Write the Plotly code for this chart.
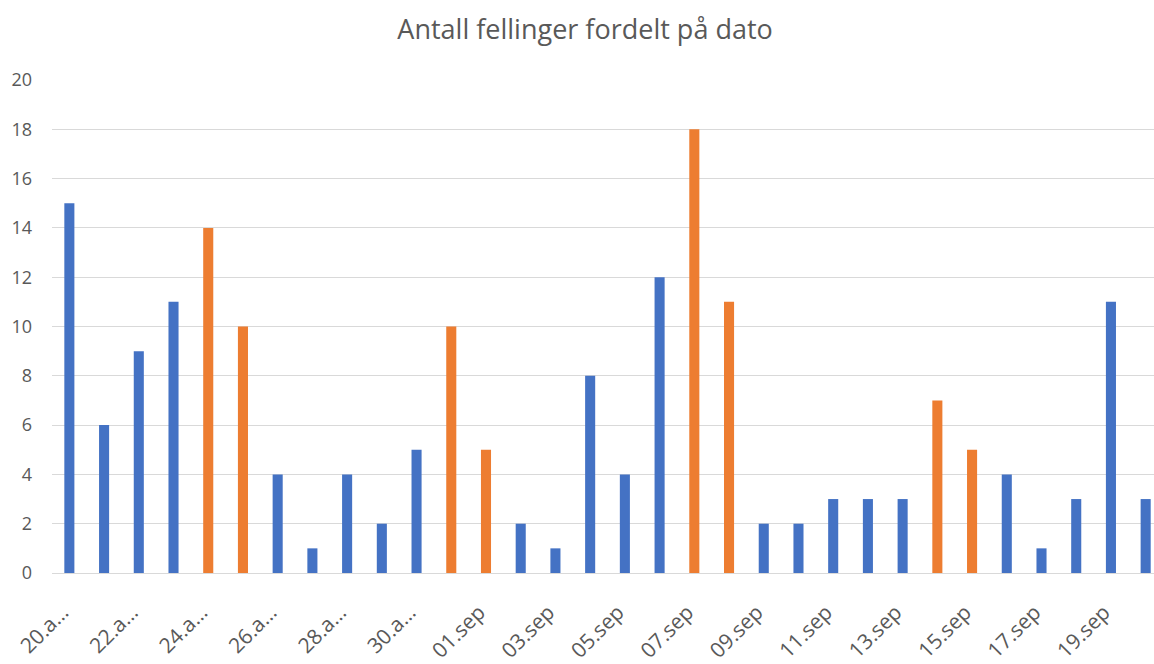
import datetime as dt
import plotly.graph_objects as go

# Data
start_date = dt.date(2019, 8, 20)
values = [15, 6, 9, 11, 14, 10, 4, 1, 4, 2, 5, 10,
          5, 2, 1, 8, 4, 12, 18, 11, 2, 2, 3, 3, 3, 7, 5, 4, 1, 3, 11, 3]
months_no = {8: "aug", 9: "sep"}

dates = [start_date + dt.timedelta(days=i) for i in range(len(values))]
labels = [f"{d.day:02d}.{months_no[d.month]}" for d in dates]
weekend = [d.weekday() >= 5 for d in dates]

BLUE = "#4472C4"
ORANGE = "#ED7D31"
colors = [ORANGE if w else BLUE for w in weekend]

x = list(range(len(values)))

# Excel-style truncated labels (every second category)
def trunc(s):
    return s if s.endswith("sep") else s[:4] + "…"

label_idx = x[::2]
# rotated labels sit slightly left of their category centre, as in Excel
tickvals = [i - 0.2 for i in label_idx]
ticktext = [trunc(labels[i]) for i in label_idx]

fig = go.Figure(go.Bar(
    x=x, y=values, marker=dict(color=colors, line=dict(width=0)),
    width=0.29, customdata=labels,
    hovertemplate="%{customdata}: %{y}<extra></extra>",
))

FONT = "Open Sans, Liberation Sans, sans-serif"
GRAY = "#595959"

fig.update_layout(
    width=1154, height=664,
    margin=dict(l=52, r=0, t=80, b=91, autoexpand=False),
    paper_bgcolor="white", plot_bgcolor="white",
    showlegend=False,
    title=dict(text="Antall fellinger fordelt på dato", x=0.507, xanchor="center",
               y=0.955, yanchor="middle",
               font=dict(family=FONT, size=27, color=GRAY)),
    xaxis=dict(range=[-0.5, 31.24], tickmode="array", tickvals=tickvals,
               ticktext=ticktext, tickangle=-45, showgrid=False,
               showline=False, zeroline=False, automargin=False,
               ticklabelstandoff=22,
               tickfont=dict(family=FONT, size=21, color=GRAY)),
    yaxis=dict(range=[0, 20], dtick=2, showgrid=True, gridcolor="#D9D9D9",
               gridwidth=1.3, zeroline=True, zerolinecolor="#D9D9D9", zerolinewidth=1.3,
               showline=False, ticks="", ticklabelstandoff=19, automargin=False,
               tickfont=dict(family=FONT, size=18, color=GRAY)),
)

fig.write_html("out.html", config={"displayModeBar": False},
               post_script="document.body.style.margin='0';")
